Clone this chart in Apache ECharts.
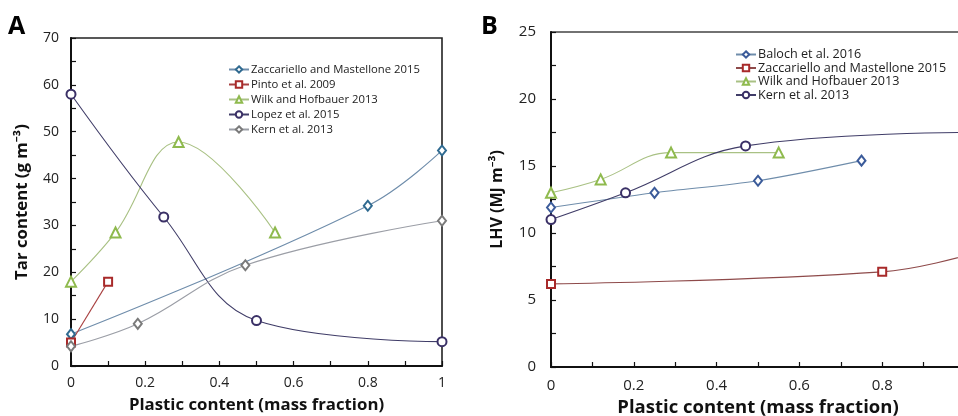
<!DOCTYPE html>
<html><head><meta charset="utf-8">
<script src="https://cdn.jsdelivr.net/npm/echarts@6/dist/echarts.min.js"></script>
<style>html,body{margin:0;padding:0;background:#fff}#c{width:958px;height:416px}</style>
</head><body><div id="c"></div>
<script>
// Panel A: Tar content (g m^-3) vs plastic content
const zaccA_x = [0, 0.8, 1];          const zaccA_y = [6.8, 34.2, 46];
const pinto_x = [0, 0.1];             const pinto_y = [5, 18];
const wilkA_x = [0, 0.12, 0.29, 0.55]; const wilkA_y = [18, 28.5, 47.8, 28.5];
const lopez_x = [0, 0.25, 0.5, 1];    const lopez_y = [58, 31.8, 9.7, 5.2];
const kernA_x = [0, 0.18, 0.47, 1];   const kernA_y = [4.2, 9, 21.5, 31];
// Panel B: LHV (MJ m^-3) vs plastic content
const baloch_x = [0, 0.25, 0.5, 0.75]; const baloch_y = [11.9, 13, 13.9, 15.4];
const zaccB_x = [0, 0.8, 1];           const zaccB_y = [6.2, 7.1, 8.3];
const wilkB_x = [0, 0.12, 0.29, 0.55]; const wilkB_y = [13, 14, 16, 16];
const kernB_x = [0, 0.18, 0.47, 1];    const kernB_y = [11, 13, 16.5, 17.5];

const namesA = ['Zaccariello and Mastellone 2015','Pinto et al. 2009','Wilk and Hofbauer 2013','Lopez et al. 2015','Kern et al. 2013'];
const namesB = ['Baloch et al. 2016','Zaccariello and Mastellone 2015','Wilk and Hofbauer 2013','Kern et al. 2013'];
const tag = '\u200B';

const zip = (xs, ys) => xs.map((x, i) => [x, ys[i]]);
const FONT = '"Open Sans", "Noto Sans", sans-serif';

function ser(name, xs, ys, idx, symbol, size, lineColor, symColor, smooth) {
  return {
    name, type: 'line', xAxisIndex: idx, yAxisIndex: idx,
    data: zip(xs, ys), smooth: smooth, symbol, symbolSize: size,
    lineStyle: { color: lineColor, width: 1.1 },
    itemStyle: { color: symColor, borderColor: symColor, borderWidth: 1.6 },
    emphasis: { disabled: true }, animation: false
  };
}

function xAx(idx, titleSize, labelSize, labelMargin, gap) {
  return {
    gridIndex: idx, type: 'value', min: 0, max: 1, interval: 0.2,
    name: 'Plastic content (mass fraction)', nameLocation: 'middle', nameGap: gap,
    nameTextStyle: { fontFamily: FONT, fontWeight: 'bold', fontSize: titleSize, color: '#111' },
    axisLine: { show: true, lineStyle: { color: '#111', width: 2 } },
    axisTick: { inside: true, length: 5, lineStyle: { color: '#111', width: 1.2 } },
    minorTick: { show: true, splitNumber: 2, length: 5, lineStyle: { color: '#111', width: 1.2 } },
    axisLabel: { fontFamily: FONT, fontSize: labelSize, color: '#222', margin: labelMargin },
    splitLine: { show: false }
  };
}
function yAx(idx, max, interval, name, titleSize, labelSize, labelMargin, gap) {
  return {
    gridIndex: idx, type: 'value', min: 0, max, interval,
    name, nameLocation: 'middle', nameGap: gap, nameRotate: 90,
    nameTextStyle: { fontFamily: FONT, fontWeight: 'bold', fontSize: titleSize, color: '#111' },
    axisLine: { show: true, lineStyle: { color: '#111', width: 2 } },
    axisTick: { inside: true, length: 5, lineStyle: { color: '#111', width: 1.2 } },
    minorTick: { show: true, splitNumber: 2, length: 5, lineStyle: { color: '#111', width: 1.2 } },
    axisLabel: { fontFamily: FONT, fontSize: labelSize, color: '#222', margin: labelMargin },
    splitLine: { show: false }
  };
}

const chart = echarts.init(document.getElementById('c'), null, { renderer: 'canvas' });
chart.setOption({
  backgroundColor: '#fff',
  animation: false,
  grid: [
    { left: 71, top: 38, width: 371, bottom: 50, show: true, borderColor: '#222', borderWidth: 1.6, outerBoundsMode: 'none', containLabel: false },
    { left: 551, top: 32, width: 414, bottom: 49, show: true, borderColor: '#444', borderWidth: 1.3, outerBoundsMode: 'none', containLabel: false }
  ],
  xAxis: [xAx(0, 16.8, 14, 10, 31), xAx(1, 18.5, 15, 11, 31)],
  yAxis: [
    yAx(0, 70, 10, 'Tar content (g m\u207B\u00B3)', 16.8, 14, 12, 40),
    yAx(1, 25, 5, 'LHV (MJ m\u207B\u00B3)', 16, 15, 15, 46)
  ],
  legend: [
    { data: namesA, left: 223, top: 59, orient: 'vertical', itemWidth: 20, itemHeight: 8, itemGap: 4,
      textStyle: { fontFamily: FONT, fontSize: 11.3, color: '#222', padding: [0, 0, 0, -3] }, selectedMode: false },
    { data: namesB.map(n => n + tag), left: 730, top: 43, orient: 'vertical', itemWidth: 20, itemHeight: 8, itemGap: 0.5,
      textStyle: { fontFamily: FONT, fontSize: 12.6, color: '#222', padding: [0, 0, 0, -3] }, selectedMode: false,
      formatter: n => n.replace(tag, '') }
  ],
  graphic: [
    { type: 'text', left: 8, top: 14, style: { text: 'A', font: 'bold 25px ' + FONT, fill: '#000' } },
    { type: 'text', left: 481, top: 14, style: { text: 'B', font: 'bold 25px ' + FONT, fill: '#000' } }
  ],
  series: [
    ser(namesA[0], zaccA_x, zaccA_y, 0, 'emptyDiamond', [8, 10], '#6f8dab', '#2f6a90', 0.4),
    ser(namesA[1], pinto_x, pinto_y, 0, 'emptyRect', 8, '#a84040', '#a82a2a', false),
    ser(namesA[2], wilkA_x, wilkA_y, 0, 'emptyTriangle', 10, '#a9c184', '#8fba4e', 0.4),
    ser(namesA[3], lopez_x, lopez_y, 0, 'emptyCircle', 9, '#403d68', '#3a3066', 0.4),
    ser(namesA[4], kernA_x, kernA_y, 0, 'emptyDiamond', [8, 10], '#9b9ea6', '#7a7a7a', 0.4),
    ser(namesB[0] + tag, baloch_x, baloch_y, 1, 'emptyDiamond', [8, 10], '#6f8dab', '#3b5b9a', 0.3),
    ser(namesB[1] + tag, zaccB_x, zaccB_y, 1, 'emptyRect', 8, '#8e4a4a', '#a82a2a', 0.4),
    ser(namesB[2] + tag, wilkB_x, wilkB_y, 1, 'emptyTriangle', 10, '#a9c184', '#8fba4e', 0.4),
    ser(namesB[3] + tag, kernB_x, kernB_y, 1, 'emptyCircle', 9, '#403d68', '#3a3066', 0.4)
  ]
});
</script>
</body></html>
